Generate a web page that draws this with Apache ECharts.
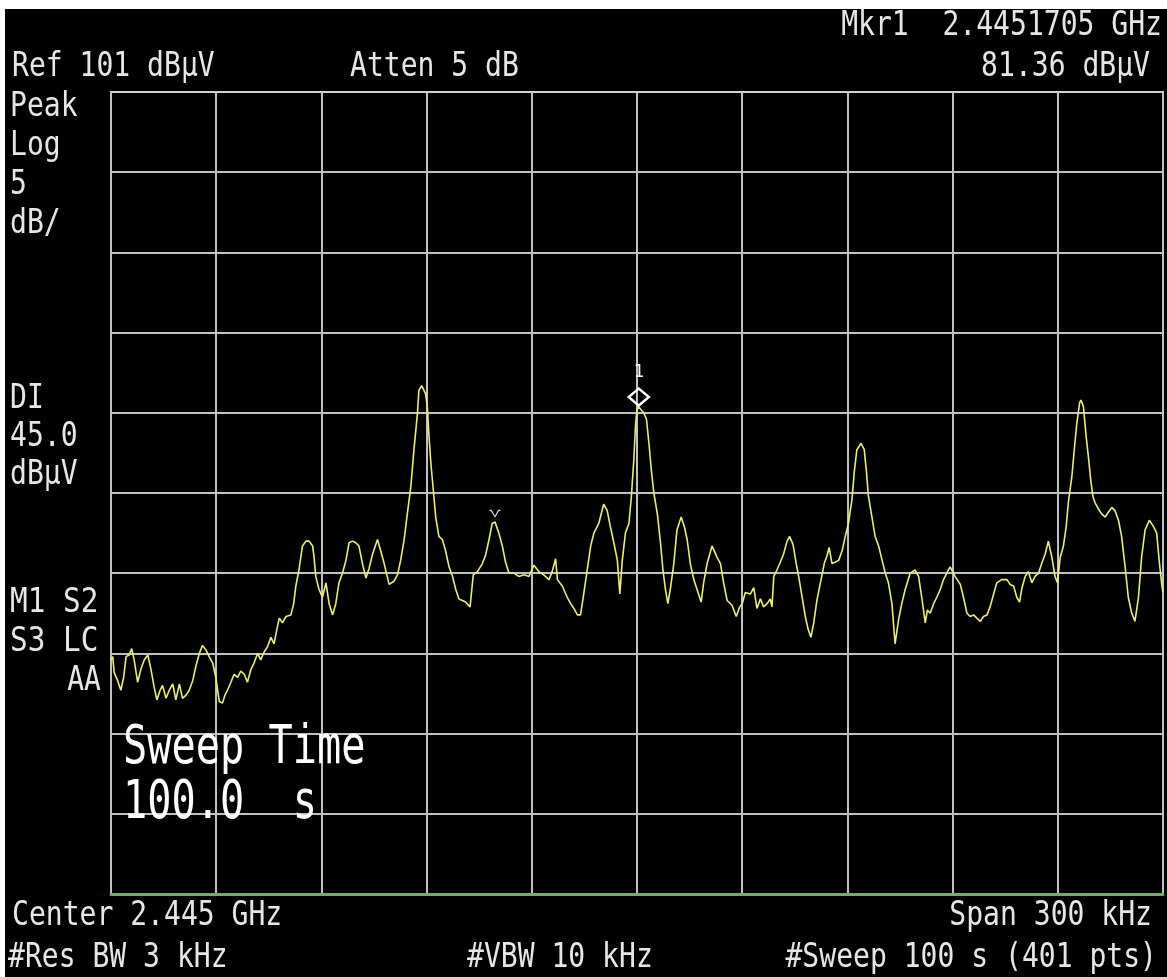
<!DOCTYPE html>
<html>
<head>
<meta charset="utf-8">
<script src="https://cdn.jsdelivr.net/npm/echarts@6/dist/echarts.min.js"></script>
<style>
  html, body { margin: 0; padding: 0; width: 1167px; height: 977px; background: #ffffff; overflow: hidden; }
  #screen { position: absolute; left: 5px; top: 9px; width: 1162px; height: 968px; background: #000000; }
</style>
</head>
<body>
<div id="screen"></div>
<script>
// Spectrum trace: frequency offset from the 2.445 GHz centre (kHz) and level (dBµV)
const freqOffsetKHz = [
  -150.0, -149.5, -149.1, -148.1, -147.2, -146.4, -145.7, -144.8, -144.1, -143.4,
  -142.4, -141.5, -140.5, -139.5, -138.6, -137.7, -136.9, -136.0, -135.3, -134.3,
  -133.4, -132.4, -131.5, -130.5, -129.6, -128.6, -127.7, -126.7, -125.8, -124.8,
  -123.9, -122.9, -122.0, -121.0, -120.1, -119.6, -119.1, -118.2, -117.5, -116.8,
  -115.8, -114.9, -113.9, -113.0, -112.0, -111.1, -110.1, -109.2, -108.2, -107.3,
  -106.3, -105.4, -104.4, -103.5, -102.7, -102.0, -101.1, -100.1, -98.7, -97.9,
  -97.3, -96.4, -95.4, -94.4, -93.5, -92.5, -92.1, -91.6, -90.7, -89.7,
  -88.7, -87.8, -86.8, -85.9, -85.0, -84.0, -83.0, -82.1, -81.1, -80.2,
  -79.3, -78.3, -77.3, -76.4, -75.4, -74.0, -73.1, -72.1, -70.7, -69.3,
  -68.3, -67.4, -66.4, -65.5, -64.5, -63.6, -62.6, -62.2, -61.4, -60.3,
  -59.8, -59.3, -58.8, -58.1, -57.4, -56.5, -55.5, -54.6, -53.6, -52.6,
  -51.7, -50.8, -49.8, -48.9, -47.6, -46.7, -45.5, -44.1, -43.2, -42.2,
  -41.3, -40.5, -39.4, -38.4, -37.5, -36.5, -35.1, -33.7, -32.2, -30.8,
  -29.4, -28.0, -26.6, -25.1, -24.2, -23.2, -22.7, -21.3, -19.9, -18.9,
  -18.0, -17.0, -16.1, -15.2, -14.2, -13.2, -12.3, -10.9, -9.5, -8.5,
  -7.6, -6.6, -5.6, -4.9, -4.2, -3.3, -2.3, -1.6, -0.9, -0.4,
  0.0, 0.5, 1.0, 1.9, 2.7, 3.4, 4.1, 4.8, 5.8, 6.7,
  7.4, 8.1, 8.8, 9.5, 10.5, 11.4, 12.6, 13.5, 14.3, 15.2,
  16.2, 17.1, 18.3, 19.0, 20.0, 21.4, 22.8, 23.8, 24.7, 25.7,
  27.1, 28.3, 29.3, 30.0, 30.9, 32.3, 33.3, 34.2, 35.2, 36.1,
  37.1, 38.0, 38.5, 39.0, 39.9, 40.9, 41.8, 42.8, 43.5, 44.5,
  45.4, 46.1, 47.1, 48.0, 48.8, 49.6, 50.4, 51.3, 52.3, 53.4,
  54.2, 54.8, 55.6, 56.6, 57.5, 58.5, 59.4, 60.3, 61.3, 62.0,
  62.7, 63.9, 64.8, 65.4, 66.0, 67.0, 67.9, 68.9, 69.9, 70.8,
  71.7, 72.7, 73.6, 74.6, 75.5, 76.5, 77.9, 79.3, 80.3, 81.2,
  82.2, 82.8, 83.6, 84.6, 85.5, 86.5, 87.4, 88.8, 89.3, 90.7,
  92.2, 93.1, 94.1, 95.0, 96.0, 96.9, 97.9, 98.8, 99.8, 100.7,
  101.7, 102.6, 104.0, 105.5, 106.4, 107.4, 108.3, 109.1, 109.7, 110.7,
  111.6, 112.6, 113.5, 114.5, 115.4, 116.4, 117.3, 118.3, 119.2, 119.9,
  120.7, 121.6, 122.4, 123.0, 124.0, 124.7, 125.4, 126.2, 126.6, 127.3,
  128.1, 128.7, 129.4, 130.0, 130.6, 131.6, 132.5, 133.5, 134.4, 135.4,
  136.3, 137.3, 138.2, 139.2, 140.1, 141.1, 142.0, 143.0, 143.9, 144.9,
  146.1, 147.3, 148.2, 149.0, 149.7, 150.0
];
const levelDbuV = [
  65.6, 65.8, 64.8, 64.3, 63.7, 64.5, 65.8, 65.9, 66.3, 65.6,
  64.2, 65.0, 65.6, 65.9, 65.0, 63.9, 63.1, 63.7, 64.0, 63.2,
  63.7, 64.1, 63.1, 64.1, 63.2, 63.4, 63.7, 64.3, 65.2, 66.0,
  66.5, 66.2, 65.8, 65.4, 64.5, 63.7, 63.0, 62.9, 63.4, 63.7,
  64.2, 64.7, 64.5, 64.9, 64.7, 64.2, 65.0, 65.4, 66.0, 65.6,
  66.1, 66.4, 67.0, 66.6, 67.5, 68.2, 67.9, 68.3, 68.4, 69.1,
  70.2, 71.2, 72.7, 73.0, 73.0, 72.7, 72.0, 70.8, 70.0, 69.5,
  70.4, 69.1, 68.4, 69.1, 70.4, 71.0, 71.8, 72.9, 73.0, 72.9,
  72.7, 71.6, 70.7, 71.3, 72.2, 73.1, 72.4, 71.6, 70.3, 70.5,
  70.9, 71.8, 73.1, 74.7, 76.4, 78.7, 81.0, 82.4, 82.7, 82.2,
  81.4, 79.5, 77.9, 76.2, 74.5, 73.3, 73.1, 72.4, 71.4, 70.8,
  70.0, 69.4, 69.3, 69.2, 68.9, 70.9, 71.1, 71.6, 72.1, 73.1,
  74.1, 74.2, 73.5, 72.7, 71.7, 71.0, 71.0, 70.8, 70.9, 70.8,
  71.5, 71.1, 70.9, 70.6, 71.1, 71.9, 70.6, 70.2, 69.5, 69.1,
  68.8, 68.4, 68.4, 69.7, 71.2, 72.7, 73.5, 74.1, 75.3, 74.9,
  73.9, 72.9, 71.8, 69.7, 71.8, 73.5, 74.1, 75.8, 78.1, 80.3,
  81.2, 81.36, 81.3, 81.0, 80.6, 79.1, 77.4, 76.0, 74.7, 72.9,
  71.2, 70.0, 69.1, 70.0, 71.6, 73.7, 74.5, 73.9, 73.1, 71.6,
  70.6, 70.0, 69.2, 70.4, 71.6, 72.7, 72.0, 71.6, 70.4, 69.3,
  69.0, 68.3, 68.9, 69.1, 69.8, 69.7, 70.1, 68.8, 69.4, 68.9,
  69.1, 69.4, 68.9, 70.8, 71.2, 71.7, 72.2, 73.0, 73.3, 72.8,
  71.6, 70.8, 69.5, 68.3, 67.5, 67.0, 67.9, 69.3, 70.4, 71.6,
  72.1, 72.6, 71.6, 71.7, 71.8, 72.4, 73.3, 74.1, 75.6, 77.4,
  78.7, 79.1, 78.7, 77.4, 75.8, 74.5, 73.3, 72.7, 71.8, 71.0,
  70.4, 69.1, 66.6, 68.1, 69.1, 70.0, 71.0, 71.2, 70.8, 69.5,
  67.9, 68.7, 68.5, 69.1, 69.5, 70.0, 70.6, 71.2, 71.4, 70.8,
  70.3, 69.5, 68.5, 68.3, 68.4, 68.2, 68.0, 68.3, 68.4, 68.9,
  69.7, 70.4, 70.6, 70.6, 70.3, 70.2, 69.5, 69.2, 70.0, 70.8,
  71.1, 70.4, 70.8, 71.0, 71.6, 72.2, 73.0, 72.0, 70.8, 70.4,
  72.0, 72.7, 73.9, 75.4, 77.0, 78.7, 80.3, 81.6, 81.8, 81.4,
  79.5, 78.3, 76.8, 75.8, 75.4, 75.0, 74.7, 74.5, 74.8, 75.1,
  74.9, 74.3, 73.3, 71.4, 69.5, 68.5, 68.0, 69.5, 72.0, 73.7,
  74.3, 73.9, 73.5, 71.6, 70.2, 69.8
];

// Display scale: 300 kHz span, reference 101 dBµV at 5 dB/div
const freqSpan = [-150, 150];
const freqDivKHz = 30;
const levelRange = [51, 101];
const levelGridDbuV = [56, 61, 66, 71, 76, 81, 86, 91, 96];

// Markers
const marker1 = { freq: 0.5, level: 81.36, name: '1' };
const peakFlag = { freq: -40.5, level: 74.2 };

// Annotation text
const headerTexts = {
  marker: 'Mkr1  2.4451705 GHz',
  markerLevel: '81.36 dBμV',
  ref: 'Ref 101 dBμV',
  atten: 'Atten 5 dB'
};
const sideTexts = ['Peak', 'Log', '5', 'dB/', 'DI', '45.0', 'dBμV', 'M1 S2', 'S3 LC', 'AA'];
const footerTexts = {
  center: 'Center 2.445 GHz',
  span: 'Span 300 kHz',
  rbw: '#Res BW 3 kHz',
  vbw: '#VBW 10 kHz',
  sweep: '#Sweep 100 s (401 pts)'
};
const sweepBanner = ['Sweep Time', '100.0  s'];

const MONO = '"DejaVu Sans Mono", "Liberation Mono", monospace';
const TEXT_COLOR = '#e6e6e6';
const GRID_COLOR = '#c0c0c0';
const TRACE_COLOR = '#ecec78';
const OX = 5, OY = 9; // screen offset within the page

function txt(text, x, y, size, align, sx, color) {
  return {
    type: 'text',
    x: x - OX,
    y: y - OY,
    scaleX: sx,
    z: 50,
    silent: true,
    style: {
      text: text,
      x: 0,
      y: 0,
      fill: color || TEXT_COLOR,
      font: size + 'px ' + MONO,
      textAlign: align,
      textVerticalAlign: 'middle',
      verticalAlign: 'middle'
    }
  };
}

const S = 33, SX = 0.85;    // small annotation font
const B = 53, BX = 0.76;    // large banner font

const sideY = [107, 146, 185, 224, 399, 437, 475, 603, 642, 681];
const graphics = [
  txt(headerTexts.marker, 1162, 26, S, 'right', SX),
  txt(headerTexts.ref, 12, 67, S, 'left', SX),
  txt(headerTexts.atten, 350, 67, S, 'left', SX),
  txt(headerTexts.markerLevel, 1150, 67, S, 'right', SX),
  txt(footerTexts.center, 12, 916, S, 'left', SX),
  txt(footerTexts.span, 1152, 916, S, 'right', SX),
  txt(footerTexts.rbw, 8, 958, S, 'left', SX),
  txt(footerTexts.vbw, 467, 958, S, 'left', SX),
  txt(footerTexts.sweep, 1157, 958, S, 'right', SX),
  txt(sweepBanner[0], 123, 749, B, 'left', BX, '#ffffff'),
  txt(sweepBanner[1], 123, 804, B, 'left', BX, '#ffffff')
];
sideTexts.forEach(function (t, i) {
  if (t === 'AA') graphics.push(txt(t, 101, sideY[i], S, 'right', SX));
  else if (t.indexOf(' ') > 0) graphics.push(txt(t, 10, sideY[i], S, 'left', 0.89));
  else graphics.push(txt(t, 10, sideY[i], S, 'left', SX));
});

const trace = freqOffsetKHz.map(function (f, i) { return [f, levelDbuV[i]]; });

const chart = echarts.init(document.getElementById('screen'), null, { renderer: 'canvas' });
chart.setOption({
  animation: false,
  backgroundColor: '#000000',
  grid: {
    left: 111 - OX, top: 92 - OY, width: 1052, height: 802,
    show: true, borderColor: '#d2d2d2', borderWidth: 2, backgroundColor: 'transparent'
  },
  xAxis: {
    type: 'value',
    min: freqSpan[0], max: freqSpan[1], interval: freqDivKHz,
    axisLine: { show: true, onZero: false, lineStyle: { color: '#7aa872', width: 3 } },
    axisTick: { show: false },
    axisLabel: { show: false },
    splitLine: { show: true, lineStyle: { color: GRID_COLOR, width: 2 } }
  },
  yAxis: {
    type: 'value',
    min: levelRange[0], max: levelRange[1],
    axisLine: { show: false },
    axisTick: { show: false },
    axisLabel: { show: false },
    splitLine: { show: false }
  },
  graphic: graphics,
  series: [
    {
      // horizontal graticule, one line per 5 dB division
      type: 'line',
      z: 1,
      data: [],
      silent: true,
      markLine: {
        silent: true,
        symbol: ['none', 'none'],
        label: { show: false },
        lineStyle: { color: GRID_COLOR, width: 2, type: 'solid' },
        data: levelGridDbuV.map(function (v) { return { yAxis: v }; })
      }
    },
    {
      type: 'line',
      z: 5,
      data: trace,
      showSymbol: false,
      smooth: false,
      lineStyle: { color: TRACE_COLOR, width: 1.6 },
      markPoint: {
        silent: true,
        label: { show: false },
        data: [
          {
            // marker 1 diamond
            coord: [marker1.freq, marker1.level],
            symbol: 'diamond',
            symbolSize: [20, 17],
            symbolOffset: [0, -10],
            itemStyle: { color: 'rgba(0,0,0,0)', borderColor: '#ffffff', borderWidth: 2.5 },
            label: { show: false }
          },
          {
            // marker number above the diamond
            coord: [marker1.freq, marker1.level],
            symbol: 'circle',
            symbolSize: 1,
            symbolOffset: [0, -34],
            itemStyle: { color: 'rgba(0,0,0,0)' },
            label: {
              show: true, position: 'inside',
              formatter: marker1.name,
              color: '#ffffff', fontSize: 17, fontFamily: MONO
            }
          },
          {
            coord: [peakFlag.freq, peakFlag.level],
            symbol: 'path://M0,0 L2,0 L5,6 L8,0 L10,0 L10,1.2 L8.7,1.2 L5,8 L1.3,1.2 L0,1.2 Z',
            symbolSize: [11, 8],
            symbolOffset: [0, -8],
            itemStyle: { color: '#e0e0e0' },
            label: { show: false }
          }
        ]
      }
    }
  ]
});
</script>
</body>
</html>
